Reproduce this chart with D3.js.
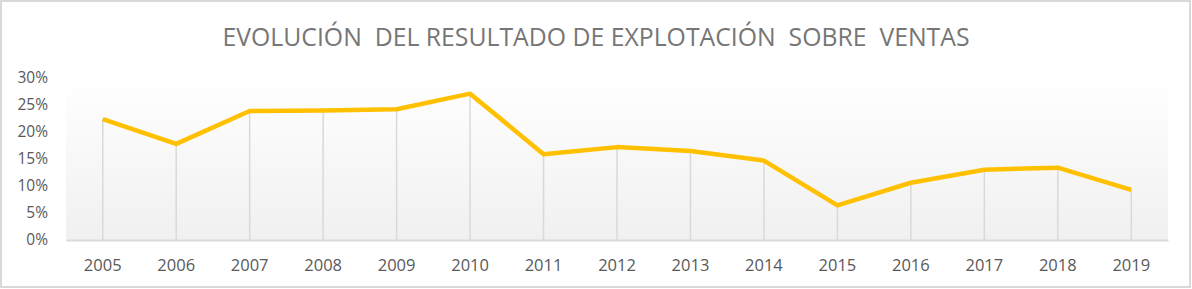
<!DOCTYPE html>
<html>
<head>
<meta charset="utf-8">
<script src="https://cdn.jsdelivr.net/npm/d3@7"></script>
<style>
  body { margin: 0; background: #fff; }
  svg { display: block; }
</style>
</head>
<body>
<svg id="chart"></svg>
<script>
// datos
const years = ['2005', '2006', '2007', '2008', '2009', '2010', '2011', '2012',
               '2013', '2014', '2015', '2016', '2017', '2018', '2019'];
const ratio = [0.224, 0.178, 0.239, 0.240, 0.242, 0.271, 0.159, 0.172,
               0.165, 0.147, 0.064, 0.106, 0.130, 0.134, 0.093];
const yTicks = [0, 0.05, 0.10, 0.15, 0.20, 0.25, 0.30];
const title = 'EVOLUCIÓN  DEL RESULTADO DE EXPLOTACIÓN  SOBRE  VENTAS';

const width = 1192, height = 289;
const margin = { top: 78, right: 24, bottom: 49, left: 66 };
const innerW = width - margin.left - margin.right;
const innerH = height - margin.top - margin.bottom;

const svg = d3.select('#chart')
    .attr('width', width)
    .attr('height', height);

// fondo y borde
svg.append('rect')
    .attr('x', 1).attr('y', 1)
    .attr('width', width - 3).attr('height', height - 3)
    .attr('fill', '#fff')
    .attr('stroke', '#d9d9d9')
    .attr('stroke-width', 2);

const defs = svg.append('defs');
const grad = defs.append('linearGradient')
    .attr('id', 'bg')
    .attr('x1', 0).attr('y1', 0).attr('x2', 0).attr('y2', 1);
grad.append('stop').attr('offset', '0%').attr('stop-color', '#ffffff');
grad.append('stop').attr('offset', '100%').attr('stop-color', '#f0f0f0');

svg.append('text')
    .attr('x', width / 2)
    .attr('y', 46)
    .attr('text-anchor', 'middle')
    .attr('font-family', 'Open Sans, sans-serif')
    .attr('font-size', 25)
    .attr('fill', '#767676')
    .attr('textLength', 747)
    .attr('lengthAdjust', 'spacingAndGlyphs')
    .style('white-space', 'pre')
    .text(title);

const chart = svg.append('g')
    .attr('transform', `translate(${margin.left}, ${margin.top})`);

const xscale = d3.scaleBand()
    .domain(years)
    .range([0, innerW]);

const yscale = d3.scaleLinear()
    .domain([0, 0.30])
    .range([innerH, 0]);

chart.append('rect')
    .attr('width', innerW)
    .attr('height', innerH)
    .attr('fill', 'url(#bg)');

// lineas de caida
chart.selectAll('.drop')
    .data(years)
    .enter()
    .append('line')
    .attr('class', 'drop')
    .attr('x1', (d) => xscale(d) + xscale.bandwidth() / 2)
    .attr('x2', (d) => xscale(d) + xscale.bandwidth() / 2)
    .attr('y1', (d, i) => yscale(ratio[i]))
    .attr('y2', innerH)
    .attr('stroke', '#d9d9d9')
    .attr('stroke-width', 1.5);

// eje x
const xaxis = d3.axisBottom(xscale).tickSize(0).tickPadding(19);
const xaxis_group = chart.append('g')
    .attr('transform', `translate(0, ${innerH})`)
    .call(xaxis);
xaxis_group.select('.domain')
    .attr('stroke', '#d9d9d9')
    .attr('stroke-width', 2);
xaxis_group.selectAll('text')
    .attr('font-family', 'Open Sans, sans-serif')
    .attr('font-size', 16.5)
    .attr('fill', '#595959');

// eje y
const yaxis = d3.axisLeft(yscale)
    .tickValues(yTicks)
    .tickFormat(d3.format('.0%'))
    .tickSize(0)
    .tickPadding(18);
const yaxis_group = chart.append('g').call(yaxis);
yaxis_group.select('.domain').remove();
yaxis_group.selectAll('text')
    .attr('font-family', 'Open Sans, sans-serif')
    .attr('font-size', 15.5)
    .attr('fill', '#595959');

// serie
const line = d3.line()
    .x((d, i) => xscale(years[i]) + xscale.bandwidth() / 2)
    .y((d) => yscale(d));

chart.append('path')
    .datum(ratio)
    .attr('d', line)
    .attr('fill', 'none')
    .attr('stroke', '#ffc000')
    .attr('stroke-width', 4.5)
    .attr('stroke-linejoin', 'round');
</script>
</body>
</html>
